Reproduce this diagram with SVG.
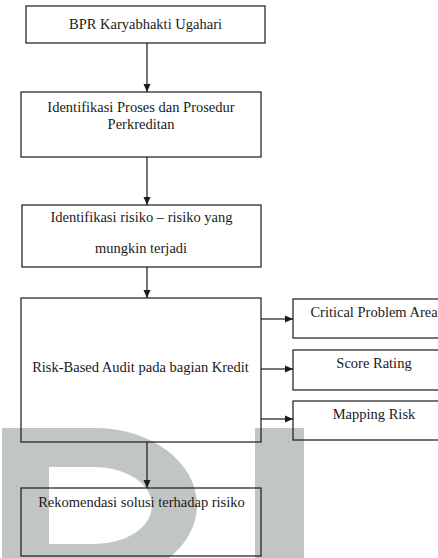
<svg xmlns="http://www.w3.org/2000/svg" width="438" height="558" viewBox="0 0 438 558">
<style>
.box{fill:none;stroke:#1a1a1a;stroke-width:1.2}
.lbl{font-family:'Liberation Serif','Times New Roman',Times,serif;font-size:14.5px;fill:#1a1a1a;text-anchor:middle}
.wm{fill:#c2c5c5}
.conn{stroke:#1a1a1a;stroke-width:1.2;fill:none}
</style>
<defs>
<marker id="ah" viewBox="0 0 8 8" refX="8" refY="4" markerWidth="8" markerHeight="8" markerUnits="userSpaceOnUse" orient="auto">
<path d="M0,0.5 L8,4 L0,7.5 Z" fill="#1a1a1a"/>
</marker>
</defs>
<rect width="438" height="558" fill="#ffffff"/>
<g id="watermark">
<path class="wm" fill-rule="evenodd" d="M2,428 H95 A102,77 0 0 1 95,582 H2 Z M49,467 H95 A57,38.5 0 0 1 95,544 H49 Z"/>
<rect class="wm" x="255" y="428" width="49" height="130"/>
</g>
<g id="connectors">
<line class="conn" x1="147" y1="43" x2="147" y2="92" marker-end="url(#ah)"/>
<line class="conn" x1="147" y1="157" x2="147" y2="205" marker-end="url(#ah)"/>
<line class="conn" x1="147" y1="267" x2="147" y2="298" marker-end="url(#ah)"/>
<line class="conn" x1="147" y1="442" x2="147" y2="488" marker-end="url(#ah)"/>
<line class="conn" x1="261" y1="319" x2="293" y2="319" marker-end="url(#ah)"/>
<line class="conn" x1="261" y1="369" x2="293" y2="369" marker-end="url(#ah)"/>
<line class="conn" x1="261" y1="419" x2="293" y2="419" marker-end="url(#ah)"/>
</g>
<g id="node-bpr">
<rect class="box" x="26" y="6" width="239" height="37"/>
<text class="lbl" x="145.5" y="29">BPR Karyabhakti Ugahari</text>
</g>
<g id="node-proses">
<rect class="box" x="21" y="92" width="240" height="65"/>
<text class="lbl" x="141" y="112">Identifikasi Proses dan Prosedur</text>
<text class="lbl" x="141" y="129">Perkreditan</text>
</g>
<g id="node-risiko">
<rect class="box" x="22" y="205" width="239" height="62"/>
<text class="lbl" x="141.5" y="222">Identifikasi risiko – risiko yang</text>
<text class="lbl" x="141" y="253">mungkin terjadi</text>
</g>
<g id="node-rba">
<rect class="box" x="21" y="298" width="240" height="144"/>
<text class="lbl" x="140.5" y="372">Risk-Based Audit pada bagian Kredit</text>
</g>
<g id="node-cpa">
<rect class="box" x="293" y="299" width="162" height="39"/>
<text class="lbl" x="374" y="317">Critical Problem Area</text>
</g>
<g id="node-score">
<rect class="box" x="293" y="350" width="162" height="40"/>
<text class="lbl" x="374" y="368">Score Rating</text>
</g>
<g id="node-mapping">
<rect class="box" x="293" y="401" width="162" height="39"/>
<text class="lbl" x="374" y="419">Mapping Risk</text>
</g>
<g id="node-rekomendasi">
<rect class="box" x="21" y="488" width="240" height="68"/>
<text class="lbl" x="141.5" y="507">Rekomendasi solusi terhadap risiko</text>
</g>
</svg>
